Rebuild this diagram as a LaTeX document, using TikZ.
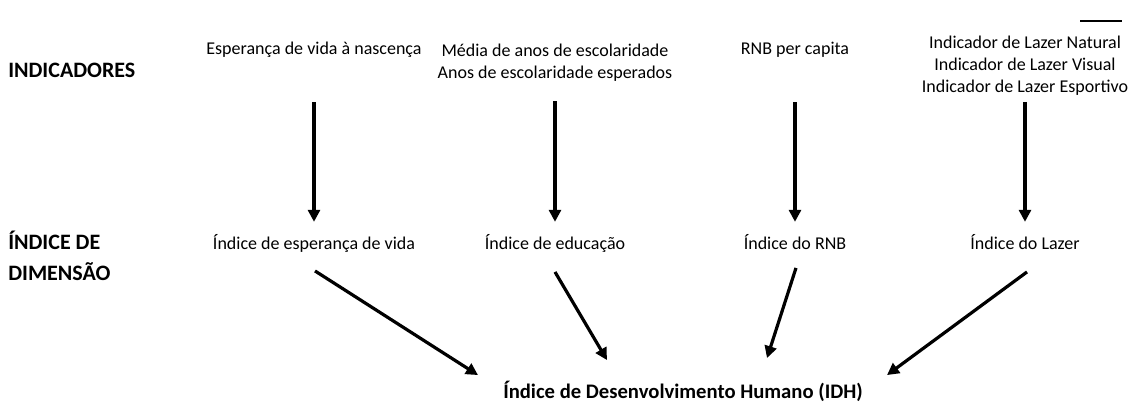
\documentclass[tikz,border=0pt]{standalone}
\usepackage{fontspec}
\setmainfont{Carlito}
\usetikzlibrary{arrows.meta}

\begin{document}
\begin{tikzpicture}[x=0.75pt,y=-0.75pt,
  texto/.style={inner sep=0pt,font=\fontsize{13.5}{16.5}\selectfont,text height=10pt,text depth=3pt},
  bloco/.style={inner sep=0pt,font=\fontsize{13.5}{16.5}\selectfont,align=center},
  titulo/.style={inner sep=0pt,font=\fontsize{16.5}{23.25}\selectfont\bfseries,align=left},
  seta/.style={line width=2.4pt,-{Triangle[length=9pt,width=9pt]}}]
\useasboundingbox (0,0) rectangle (1132,405);

\node[titulo,anchor=base west] (lind) at (8,77.5) {INDICADORES};
\node[titulo,anchor=north west] (ldim) at (8,231) {ÍNDICE DE\\DIMENSÃO};

% indicadores
\node[texto] (esp) at (314,50) {Esperança de vida à nascença};
\node[bloco] (edu) at (555,62.5) {Média de anos de escolaridade\\Anos de escolaridade esperados};
\node[texto] (rnb) at (795,50) {RNB per capita};
\node[bloco] (laz) at (1025,65.5) {Indicador de Lazer Natural\\Indicador de Lazer Visual\\Indicador de Lazer Esportivo};
\draw[line width=2.2pt] (1080,21) -- (1122,21);

% indices de dimensao
\node[texto] (iesp) at (314,245) {Índice de esperança de vida};
\node[texto] (iedu) at (555,245) {Índice de educação};
\node[texto] (irnb) at (795,245) {Índice do RNB};
\node[texto] (ilaz) at (1025,245) {Índice do Lazer};

\node[texto,font=\fontsize{15.5}{19}\selectfont\bfseries,text height=11pt,text depth=3.5pt] (idh) at (683,393) {Índice de Desenvolvimento Humano (IDH)};

\draw[seta,shorten <=32.5pt,shorten >=10.7pt] (esp) -- (iesp);
\draw[seta,shorten <=14.9pt,shorten >=10.7pt] (edu) -- (iedu);
\draw[seta,shorten <=32.5pt,shorten >=10.7pt] (rnb) -- (irnb);
\draw[seta,shorten <=4.8pt,shorten >=10.7pt] (laz) -- (ilaz);

\draw[seta] ([shift={(1,17)}]iesp.south) -- ([shift={(-205,-8)}]idh.north);
\draw[seta] ([shift={(0,18)}]iedu.south) -- ([shift={(-76,-23)}]idh.north);
\draw[seta] ([shift={(1,14)}]irnb.south) -- ([shift={(84,-25)}]idh.north);
\draw[seta] ([shift={(2,18)}]ilaz.south) -- ([shift={(204,-8)}]idh.north);
\end{tikzpicture}
\end{document}
